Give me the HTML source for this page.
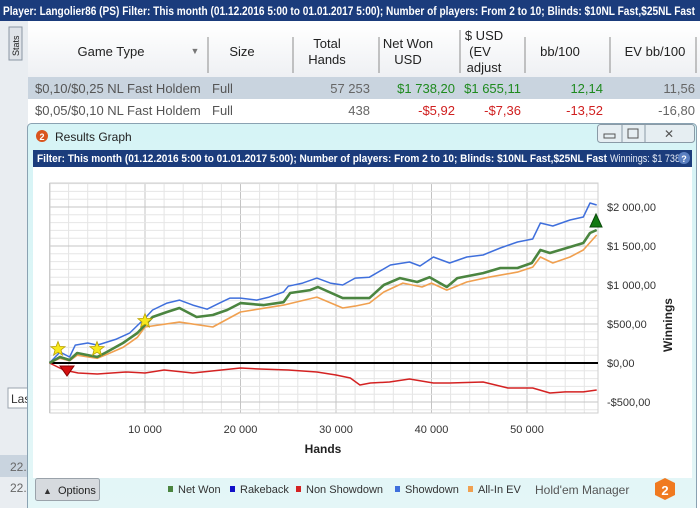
<!DOCTYPE html>
<html><head><meta charset="utf-8"><style>
body{margin:0;width:700px;height:508px;overflow:hidden;background:#fff;font-family:"Liberation Sans",sans-serif}
svg{display:block}
text{font-family:"Liberation Sans",sans-serif}
</style></head><body>
<svg id="root" width="700" height="508" viewBox="0 0 700 508">
<defs>
<linearGradient id="hdr" x1="0" y1="0" x2="0" y2="1"><stop offset="0" stop-color="#ffffff"/><stop offset="1" stop-color="#eef0f3"/></linearGradient>
<linearGradient id="win" x1="0" y1="0" x2="0" y2="1"><stop offset="0" stop-color="#d6f4f6"/><stop offset="1" stop-color="#e4f6f7"/></linearGradient>
</defs>
<!-- top bar -->
<rect x="0" y="0" width="700" height="21" fill="#1b3c7c"/>
<text x="3" y="15" font-size="12" fill="#ffffff" font-weight="bold" textLength="692" lengthAdjust="spacingAndGlyphs">Player: Langolier86 (PS)   Filter: This month (01.12.2016 5:00 to 01.01.2017 5:00); Number of players: From 2 to 10; Blinds: $10NL Fast,$25NL Fast</text>
<!-- left strip -->
<rect x="0" y="21" width="28" height="487" fill="#e9edf1"/>
<rect x="9" y="27" width="13" height="33" fill="#dfe3e8" stroke="#8a96a3"/>
<text transform="translate(19,56) rotate(-90)" font-size="9" fill="#222">Stats</text>
<!-- table header -->
<rect x="28" y="25" width="672" height="52" fill="url(#hdr)"/>
<g font-size="13" fill="#222" text-anchor="middle">
<text x="111" y="56">Game Type</text>
<text x="195" y="54" font-size="9" fill="#777">▼</text>
<text x="242" y="56">Size</text>
<text x="327" y="48">Total</text><text x="327" y="64">Hands</text>
<text x="408" y="48">Net Won</text><text x="408" y="64">USD</text>
<text x="484" y="40">$ USD</text><text x="480" y="56">(EV</text><text x="484" y="72">adjust</text>
<text x="560" y="56">bb/100</text>
<text x="655" y="56">EV bb/100</text>
</g>
<g stroke="#8c8c8c" stroke-width="1">
<line x1="208" y1="37" x2="208" y2="73"/><line x1="293" y1="37" x2="293" y2="73"/><line x1="379" y1="37" x2="379" y2="73"/><line x1="460" y1="30" x2="460" y2="73"/><line x1="525" y1="37" x2="525" y2="73"/><line x1="610" y1="37" x2="610" y2="73"/><line x1="696" y1="37" x2="696" y2="73"/>
</g>
<!-- rows -->
<rect x="28" y="77" width="672" height="22" fill="#c9d4df"/>
<g font-size="13">
<text x="35" y="93" fill="#555">$0,10/$0,25 NL Fast Holdem</text>
<text x="212" y="93" fill="#555">Full</text>
<text x="370" y="93" fill="#666" text-anchor="end">57 253</text>
<text x="455" y="93" fill="#1e8a1e" text-anchor="end">$1 738,20</text>
<text x="521" y="93" fill="#1e8a1e" text-anchor="end">$1 655,11</text>
<text x="603" y="93" fill="#1e8a1e" text-anchor="end">12,14</text>
<text x="695" y="93" fill="#666" text-anchor="end">11,56</text>
<text x="35" y="115" fill="#555">$0,05/$0,10 NL Fast Holdem</text>
<text x="212" y="115" fill="#555">Full</text>
<text x="370" y="115" fill="#666" text-anchor="end">438</text>
<text x="455" y="115" fill="#d02020" text-anchor="end">-$5,92</text>
<text x="521" y="115" fill="#d02020" text-anchor="end">-$7,36</text>
<text x="603" y="115" fill="#d02020" text-anchor="end">-13,52</text>
<text x="695" y="115" fill="#666" text-anchor="end">-16,80</text>
</g>
<!-- background left items -->
<rect x="8" y="388" width="22" height="20" fill="#fff" stroke="#9aa4ae"/>
<text x="11" y="403" font-size="12" fill="#333">Las</text>
<rect x="0" y="455" width="28" height="22" fill="#c9d4df"/>
<text x="10" y="471" font-size="12" fill="#666">22.</text>
<text x="10" y="492" font-size="12" fill="#666">22.</text>
<!-- graph window -->
<rect x="27.5" y="123.5" width="669" height="390" rx="4" fill="url(#win)" stroke="#8aa2b2"/>
<circle cx="42" cy="136" r="6" fill="#d9541e"/>
<text x="42" y="140" font-size="9" font-weight="bold" fill="#fff" text-anchor="middle">2</text>
<text x="55" y="141" font-size="12" fill="#222">Results Graph</text>
<g>
<rect x="597.5" y="124.5" width="97" height="18" rx="3" fill="#e6eef2" stroke="#8a9aa6"/>
<line x1="622" y1="125" x2="622" y2="142" stroke="#8a9aa6"/><line x1="645" y1="125" x2="645" y2="142" stroke="#8a9aa6"/>
<rect x="604" y="134" width="11" height="4" fill="none" stroke="#555"/>
<rect x="628" y="129" width="10" height="9" fill="none" stroke="#555"/>
<text x="669" y="138" font-size="12" fill="#555" text-anchor="middle">✕</text>
</g>
<rect x="33" y="150" width="659" height="17" fill="#1b3c7c"/>
<text x="37" y="162" font-size="11" font-weight="bold" fill="#fff" textLength="570" lengthAdjust="spacingAndGlyphs">Filter: This month (01.12.2016 5:00 to 01.01.2017 5:00); Number of players: From 2 to 10; Blinds: $10NL Fast,$25NL Fast</text>
<text x="610" y="162" font-size="11" fill="#e8eef8" textLength="70" lengthAdjust="spacingAndGlyphs">Winnings: $1 738</text>
<circle cx="684" cy="158" r="6" fill="#5b7fc0"/>
<text x="684" y="162" font-size="9" font-weight="bold" fill="#fff" text-anchor="middle">?</text>
<rect x="33" y="167" width="659" height="311" fill="#ffffff"/>
<g id="grid"></g>
<g id="series"></g>
<g id="axes"></g>
<!-- bottom -->
<rect x="35.5" y="478.5" width="64" height="22" rx="2" fill="#d6dade" stroke="#9aa2aa"/>
<text x="43" y="494" font-size="9" fill="#333">▲</text>
<text x="58" y="494" font-size="11" fill="#222">Options</text>
<g id="legend" font-size="11" fill="#333"></g>
<text x="535" y="494" font-size="12" fill="#555">Hold'em Manager</text>
<polygon points="665,478 675,483 675,495 665,500 655,495 655,483" fill="#f07a20"/>
<text x="665" y="495" font-size="13" font-weight="bold" fill="#fff" text-anchor="middle">2</text>
</svg>
<script>
// data (hands in thousands, winnings in $)
const showdownHands=[0,1.1,2.1,2.7,4,5,7,8.4,10,10.8,12.3,13.6,15,16.5,17.8,18.9,20,21.7,23,24.5,25,26.5,28,29.4,30.7,32,33.5,35.7,37.7,38.8,40.2,41.9,43.7,45.4,47.2,49,50.6,51.4,52.7,54.5,55.9,56.6,57.3];
const showdownVals=[0,141,77,230,256,230,307,384,576,680,768,806,742,690,768,832,832,806,845,910,985,1024,1088,1024,1000,1088,1100,1256,1295,1243,1359,1282,1359,1385,1474,1551,1590,1795,1756,1833,1872,2051,2026];
const netWonHands=[0,1.1,2.1,2.9,5,6,7.7,9.2,10.8,12.3,13.6,15.4,17.1,18.6,20,22.4,24.5,25.2,27.3,28.1,30.7,32.2,33.5,35,36.7,38.5,39.8,41.6,42.7,45.4,47.2,49,50.5,51.4,52.4,54.5,55.9,56.6,57.3];
const netWonVals=[0,77,38,128,77,141,256,384,590,654,705,590,615,680,768,742,780,897,935,974,832,832,832,1000,1088,1038,1100,974,1088,1152,1218,1218,1282,1449,1410,1487,1538,1667,1705];
const allInHands=[0,1.1,2.1,2.9,5,6,7.7,9.2,10,13.6,17.1,20,24.5,28,30.7,32,33.5,35,37,39,40,41.6,43.7,46,49,50.6,51.4,52.7,54.5,55.9,57.3];
const allInVals=[0,60,30,100,60,110,200,330,461,525,461,654,742,845,705,730,768,910,1024,974,1024,935,1038,1100,1166,1230,1359,1282,1359,1449,1641];
const nonSdHands=[0,1.5,3,5,8,10,12,15,18,20,22,25,28,30,31.5,32.5,33.6,35.6,37.7,40.2,41.9,45.4,48,50.6,52.4,54,55.9,57.3];
const nonSdVals=[0,-90,-128,-141,-115,-128,-90,-128,-90,-64,-77,-90,-115,-154,-192,-282,-256,-243,-205,-256,-256,-243,-320,-320,-384,-370,-370,-346];
const xTicks=[10,20,30,40,50];
const xTickLabels=["10 000","20 000","30 000","40 000","50 000"];
const yTicks=[2000,1500,1000,500,0,-500];
const yTickLabels=["$2 000,00","$1 500,00","$1 000,00","$500,00","$0,00","-$500,00"];
const legendNames=["Net Won","Rakeback","Non Showdown","Showdown","All-In EV"];

const NS='http://www.w3.org/2000/svg';
const PL=50,PR=598,PT=183,PB=413;
function xs(h){return 49.5+h*9.55;}
function ys(v){return 363-v*39/500;}
function mk(tag,attrs,parent){const e=document.createElementNS(NS,tag);for(const k in attrs)e.setAttribute(k,attrs[k]);parent.appendChild(e);return e;}
const grid=document.getElementById('grid'),series=document.getElementById('series'),axes=document.getElementById('axes'),legend=document.getElementById('legend');
// grid
for(let h=0;xs(h)<=PR+0.5;h+=2){const l=mk('line',{x1:xs(h),x2:xs(h),y1:PT,y2:PB,stroke:(h%10===0?'#c4c4c4':'#e4e4e4'),'stroke-width':1},grid);

}
for(let v=-600;v<=2300;v+=100){const y=ys(v);if(y<PT||y>PB)continue;const l=mk('line',{x1:PL,x2:PR,y1:y,y2:y,stroke:(v%500===0?'#c4c4c4':'#e6e6e6'),'stroke-width':1},grid);

}
const frame=mk('rect',{x:PL,y:PT,width:PR-PL,height:PB-PT,fill:'none',stroke:'#cfcfcf'},grid);


const zero=mk('line',{x1:PL,x2:PR,y1:ys(0),y2:ys(0),stroke:'#000','stroke-width':2},grid);


function line(hs,vs,color,w,name){const d=hs.map((h,i)=>(i?'L':'M')+xs(h).toFixed(1)+','+ys(vs[i]).toFixed(1)).join(' ');
const p=mk('path',{d:d,fill:'none',stroke:color,'stroke-width':w,'stroke-linejoin':'round'},series);

}
line(nonSdHands,nonSdVals,'#d42222',1.5,'non-showdown-line');
line(showdownHands,showdownVals,'#3f6fdc',1.5,'showdown-line');
line(allInHands,allInVals,'#f0a050',1.6,'all-in-ev-line');
line(netWonHands,netWonVals,'#4b8540',2.6,'net-won-line');
// markers
function star(cx,cy){let pts=[];for(let i=0;i<10;i++){const r=i%2?3.2:7.5,a=-Math.PI/2+i*Math.PI/5;pts.push((cx+r*Math.cos(a)).toFixed(1)+','+(cy+r*Math.sin(a)).toFixed(1));}
const s=mk('polygon',{points:pts.join(' '),fill:'#f7e81c',stroke:'#b8a000','stroke-width':0.8},series);

}
star(58,349);star(97,349);star(145,321);
const dn=mk('polygon',{points:'60,366 74,366 67,376',fill:'#d41010',stroke:'#800'},series);


const up=mk('polygon',{points:'590,227 602,227 596,214',fill:'#137a13',stroke:'#0a4a0a'},series);


// axes labels
xTicks.forEach((h,i)=>{const t=mk('text',{x:xs(h),y:433,'font-size':11,fill:'#333','text-anchor':'middle'},axes);t.textContent=xTickLabels[i];

});
yTicks.forEach((v,i)=>{const t=mk('text',{x:607,y:ys(v)+4,'font-size':11,fill:'#333'},axes);t.textContent=yTickLabels[i];

});
const xt=mk('text',{x:323,y:453,'font-size':12,'font-weight':'bold',fill:'#222','text-anchor':'middle'},axes);xt.textContent='Hands';


const yt=mk('text',{transform:'translate(672,325) rotate(-90)','font-size':12,'font-weight':'bold',fill:'#222','text-anchor':'middle'},axes);yt.textContent='Winnings';


// legend
const legColors=['#4b8540','#1010c8','#d42222','#3f6fdc','#f0a050'];
const legX=[168,230,296,395,468];
legendNames.forEach((n,i)=>{const r=mk('rect',{x:legX[i],y:486,width:5,height:6,fill:legColors[i]},legend);


const t=mk('text',{x:legX[i]+10,y:493},legend);t.textContent=n;

});
</script>
</body></html>
